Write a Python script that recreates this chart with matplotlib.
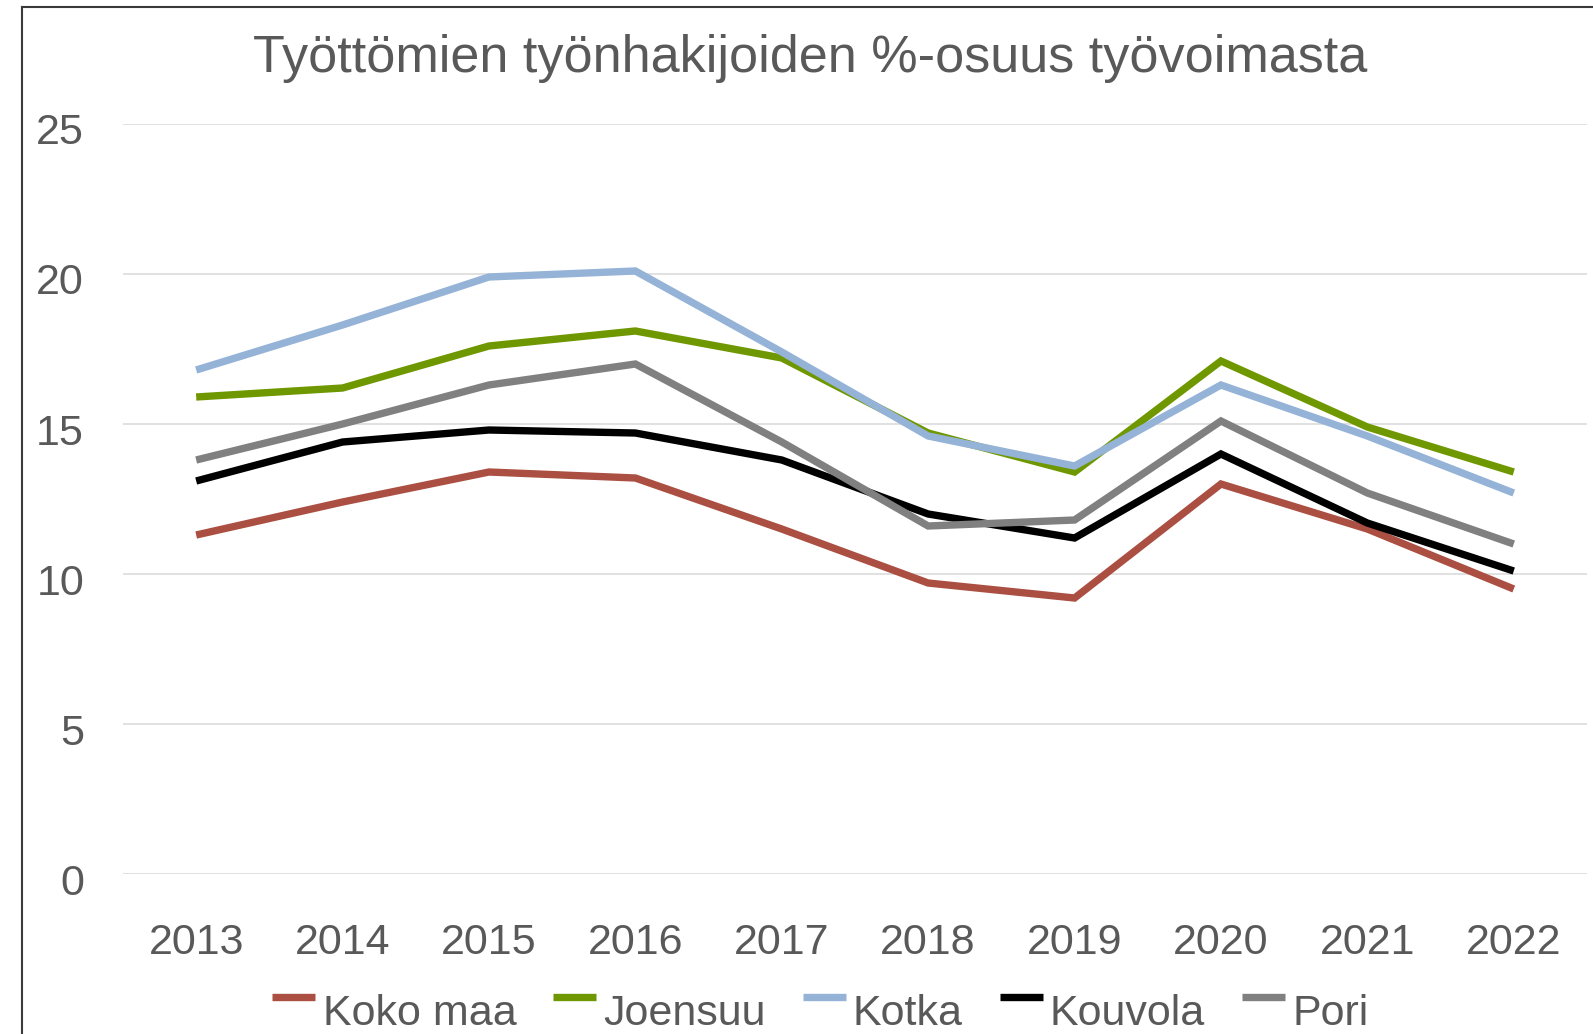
import matplotlib
matplotlib.use("Agg")
import matplotlib.pyplot as plt
import matplotlib.transforms as mtransforms
from matplotlib.lines import Line2D
from matplotlib.legend_handler import HandlerLine2D

plt.rcParams['font.family'] = ['Liberation Sans', 'DejaVu Sans']

years = ["2013", "2014", "2015", "2016", "2017", "2018", "2019", "2020", "2021", "2022"]
koko_maa = [11.3, 12.4, 13.4, 13.2, 11.5, 9.7, 9.2, 13.0, 11.5, 9.5]
joensuu = [15.9, 16.2, 17.6, 18.1, 17.2, 14.7, 13.4, 17.1, 14.9, 13.4]
kotka = [16.8, 18.3, 19.9, 20.1, 17.4, 14.6, 13.6, 16.3, 14.6, 12.7]
kouvola = [13.1, 14.4, 14.8, 14.7, 13.8, 12.0, 11.2, 14.0, 11.7, 10.1]
pori = [13.8, 15.0, 16.3, 17.0, 14.4, 11.6, 11.8, 15.1, 12.7, 11.0]

series = [
    ("Koko maa", koko_maa, "#AA4F41"),
    ("Joensuu", joensuu, "#6F9700"),
    ("Kotka", kotka, "#95B3D7"),
    ("Kouvola", kouvola, "#000000"),
    ("Pori", pori, "#808080"),
]

TXT = "#595959"

fig = plt.figure(figsize=(15.93, 10.34), dpi=100)
ax = fig.add_axes([0.0772, 0.1547, 0.9962 - 0.0772, 0.8801 - 0.1547])

x = list(range(len(years)))
handles = []
for name, vals, col in series:
    ln, = ax.plot(x, vals, color=col, linewidth=5.3, solid_joinstyle='miter',
                  solid_capstyle='butt', label=name)
    handles.append(ln)

ax.set_xlim(-0.5, len(years) - 0.5)
ax.set_ylim(0, 25)
ax.set_yticks([0, 5, 10, 15, 20, 25])
ax.set_xticks(x)
ax.set_xticklabels(years)
ax.grid(axis='y', color='#D9D9D9', linewidth=1.1)
ax.set_axisbelow(True)
for s in ax.spines.values():
    s.set_visible(False)
ax.tick_params(axis='both', length=0, labelsize=31, labelcolor=TXT)
ax.tick_params(axis='y', pad=28)
ax.tick_params(axis='x', pad=35)

shift = mtransforms.ScaledTranslation(0, -5 / 100, fig.dpi_scale_trans)
for lbl in ax.get_yticklabels():
    lbl.set_transform(lbl.get_transform() + shift)

fig.text(0.5085, 0.943, "Työttömien työnhakijoiden %-osuus työvoimasta",
         ha='center', va='center', fontsize=37.5, color=TXT)


class UpHandler(HandlerLine2D):
    def create_artists(self, legend, orig_handle, xdescent, ydescent, width,
                       height, fontsize, trans):
        arts = super().create_artists(legend, orig_handle, xdescent, ydescent,
                                      width, height, fontsize, trans)
        for a in arts:
            yd = a.get_ydata()
            a.set_ydata([v + height * 0.45 for v in yd])
        return arts


leg = fig.legend(handles=handles, loc='center', bbox_to_anchor=(0.515, 0.019),
                 ncol=5, frameon=False, fontsize=31, handlelength=1.0,
                 handletextpad=0.17, columnspacing=0.85,
                 handler_map={Line2D: UpHandler()})
for t in leg.get_texts():
    t.set_color(TXT)

# chart frame (left and top edges)
fig.add_artist(Line2D([22 / 1593, 22 / 1593], [0, 1 - 7 / 1034], color='#3A3A3A',
                      linewidth=1.5, transform=fig.transFigure))
fig.add_artist(Line2D([22 / 1593, 1], [1 - 7 / 1034, 1 - 7 / 1034], color='#3A3A3A',
                      linewidth=1.5, transform=fig.transFigure))

fig.savefig("out.png", dpi=100)
